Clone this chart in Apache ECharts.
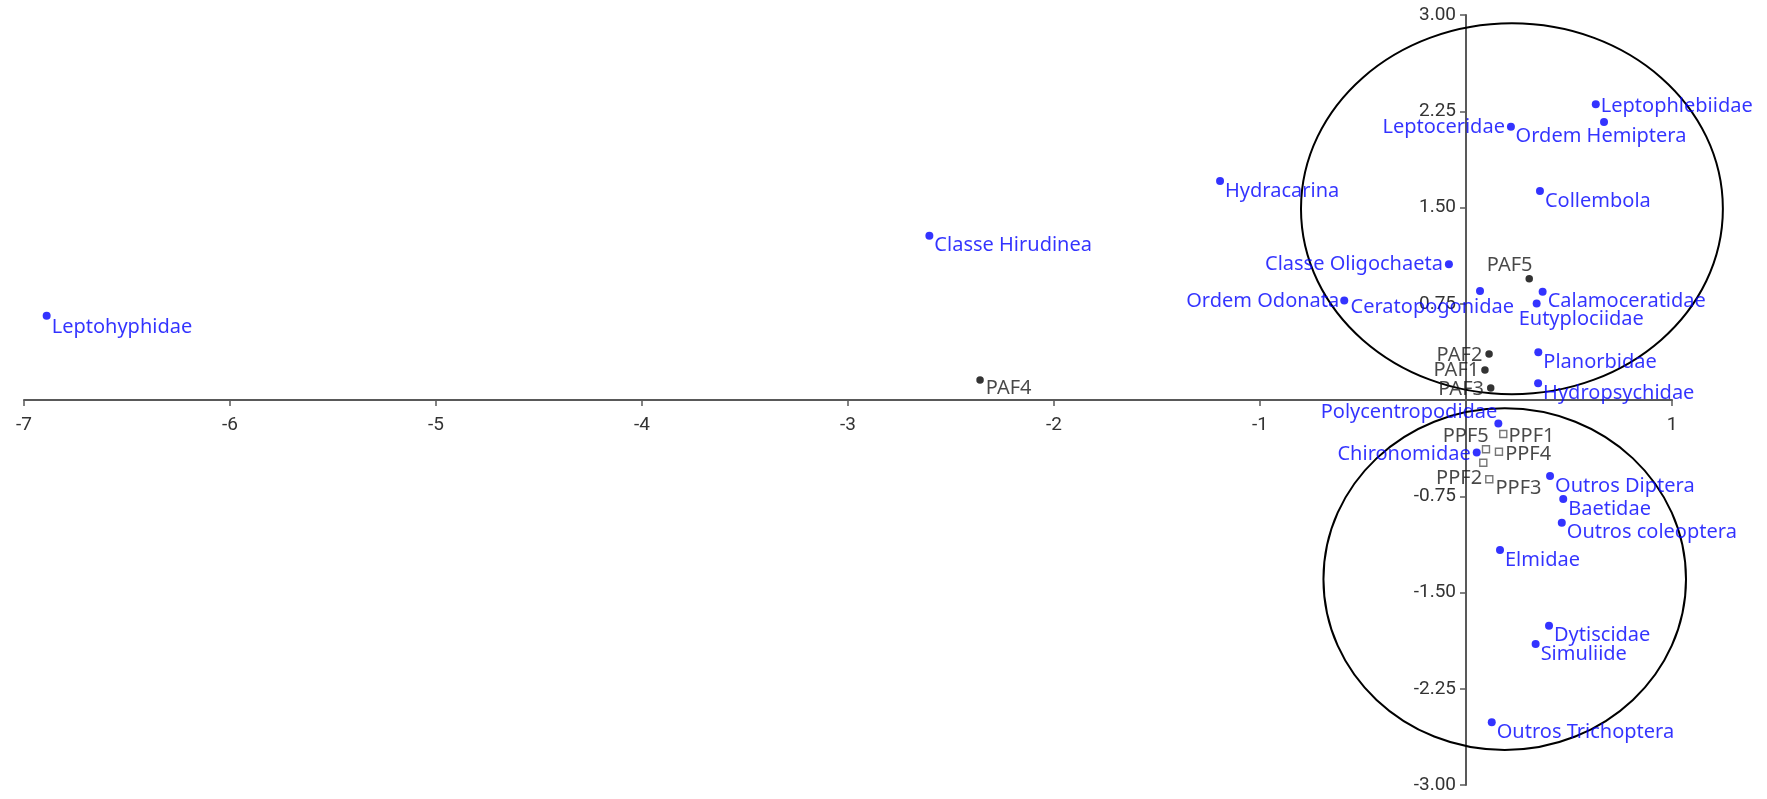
<!DOCTYPE html>
<html>
<head>
<meta charset="utf-8">
<script src="https://cdn.jsdelivr.net/npm/echarts@6/dist/echarts.min.js"></script>
<style>
html,body{margin:0;padding:0;background:#fff;}
#chart{width:1767px;height:799px;}
</style>
</head>
<body>
<div id="chart"></div>
<script>
// ---- data ----
const taxaNames = ['Leptophlebiidae','Ordem Hemiptera','Leptoceridae','Hydracarina','Collembola','Classe Hirudinea','Classe Oligochaeta','Ceratopogonidae','Ordem Odonata','Calamoceratidae','Eutyplociidae','Leptohyphidae','Planorbidae','Hydropsychidae','Polycentropodidae','Chironomidae','Outros Diptera','Baetidae','Outros coleoptera','Elmidae','Dytiscidae','Simuliide','Outros Trichoptera'];
const taxaX = [0.630, 0.670, 0.218, -1.194, 0.359, -2.605, -0.083, 0.068, -0.591, 0.372, 0.343, -6.890, 0.351, 0.350, 0.157, 0.052, 0.408, 0.472, 0.465, 0.165, 0.403, 0.338, 0.125];
const taxaY = [2.304, 2.166, 2.130, 1.707, 1.629, 1.280, 1.057, 0.849, 0.775, 0.844, 0.752, 0.657, 0.372, 0.130, -0.183, -0.409, -0.592, -0.771, -0.956, -1.169, -1.759, -1.901, -2.512];

const pafNames = ['PAF1','PAF2','PAF3','PAF4','PAF5'];
const pafX = [0.092, 0.112, 0.120, -2.359, 0.307];
const pafY = [0.234, 0.358, 0.094, 0.156, 0.945];

const ppfNames = ['PPF1','PPF2','PPF3','PPF4','PPF5'];
const ppfX = [0.181, 0.084, 0.113, 0.160, 0.097];
const ppfY = [-0.265, -0.489, -0.618, -0.403, -0.384];

const ellipseCX = [0.223, 0.188];
const ellipseCY = [1.490, -1.396];
const ellipseRX = [1.024, 0.880];
const ellipseRY = [1.445, 1.331];

const xMin = -7, xMax = 1, xStep = 1;
const yMin = -3, yMax = 3, yStep = 0.75;

// ---- label placement (styling) ----
// [position, distance, dx, dy]
const place = {
  'Leptophlebiidae': ['right', 1, 0, 2],
  'Ordem Hemiptera': ['bottom', 0, -3, 0],
  'Leptoceridae': ['left', 2, 0, 1],
  'Classe Oligochaeta': ['left', 2, 0, 0],
  'Ceratopogonidae': ['left', 0, 38, 16],
  'Ordem Odonata': ['left', 1, 0, 1],
  'Eutyplociidae': ['right', 0, -22, 16],
  'Polycentropodidae': ['left', 0, 3, -11],
  'Chironomidae': ['left', 2, 0, 2],
  'Leptohyphidae': ['right', 1, 0, 12],
  'PAF1': ['left', 2, 0, 0],
  'PAF2': ['left', 3, 0, 1],
  'PAF3': ['left', 3, 0, 1],
  'PAF4': ['right', 2, 0, 8],
  'PAF5': ['left', 0, 7, -13],
  'PPF1': ['right', 1, 0, 2],
  'PPF2': ['left', 0, 3, 16],
  'PPF3': ['right', 2, 0, 9],
  'PPF4': ['right', 2, 0, 3],
  'PPF5': ['left', 0, 7, -13]
};
const defaultPlace = ['right', 1, 0, 10];

function build(names, xs, ys) {
  return names.map((n, i) => {
    const p = place[n] || defaultPlace;
    return {
      name: n,
      value: [xs[i], ys[i]],
      label: { position: p[0], distance: p[1], offset: [p[2], p[3]] }
    };
  });
}

const labelFont = '"Noto Sans", "Open Sans", sans-serif';
const tickFont = 'Roboto, "DejaVu Sans", sans-serif';

const chart = echarts.init(document.getElementById('chart'));
chart.setOption({
  animation: false,
  backgroundColor: '#ffffff',
  grid: { left: 24, right: 95, top: 15, bottom: 14, containLabel: false, outerBoundsMode: 'none' },
  xAxis: {
    type: 'value', min: xMin, max: xMax, interval: xStep,
    axisLine: { show: true, onZero: false, lineStyle: { color: '#595959', width: 2 } },
    axisTick: { show: true, length: 6, lineStyle: { color: '#595959', width: 1.5 } },
    axisLabel: {
      margin: 16, color: '#333', fontFamily: tickFont, fontSize: 19,
      formatter: v => (Math.abs(v) < 1e-9 ? '' : String(v))
    },
    splitLine: { show: false }
  },
  yAxis: {
    type: 'value', min: yMin, max: yMax, interval: yStep,
    axisLine: { show: true, onZero: false, lineStyle: { color: '#595959', width: 2 } },
    axisTick: { show: true, length: 6, lineStyle: { color: '#595959', width: 1.5 } },
    axisLabel: {
      margin: 10, color: '#333', fontFamily: tickFont, fontSize: 19,
      formatter: v => (Math.abs(v) < 1e-9 ? '' : v.toFixed(2))
    },
    splitLine: { show: false }
  },
  series: [
    {
      type: 'custom',
      name: 'ellipses',
      clip: false,
      silent: true,
      encode: { x: 0, y: 1 },
      data: ellipseCX.map((c, i) => [c, ellipseCY[i], ellipseRX[i], ellipseRY[i]]),
      renderItem: function (params, api) {
        const c = api.coord([api.value(0), api.value(1)]);
        const s = api.size([api.value(2), api.value(3)]);
        return {
          type: 'ellipse',
          shape: { cx: c[0], cy: c[1], rx: s[0], ry: s[1] },
          style: { fill: 'none', stroke: '#000', lineWidth: 2 }
        };
      },
      z: 1
    },
    {
      type: 'scatter', name: 'taxa',
      symbol: 'circle', symbolSize: 8,
      itemStyle: { color: '#0000ff' },
      label: { show: true, formatter: '{b}', color: '#0000ff', fontFamily: labelFont, fontSize: 20 },
      data: build(taxaNames, taxaX, taxaY),
      z: 3
    },
    {
      type: 'scatter', name: 'PAF',
      symbol: 'circle', symbolSize: 7.5,
      itemStyle: { color: '#000' },
      label: { show: true, formatter: '{b}', color: '#1a1a1a', fontFamily: labelFont, fontSize: 20 },
      data: build(pafNames, pafX, pafY),
      z: 3
    },
    {
      type: 'scatter', name: 'PPF',
      symbol: 'rect', symbolSize: 7,
      itemStyle: { color: '#fff', borderColor: '#555', borderWidth: 1.4 },
      label: { show: true, formatter: '{b}', color: '#1a1a1a', fontFamily: labelFont, fontSize: 20 },
      data: build(ppfNames, ppfX, ppfY),
      z: 3
    }
  ]
});

// Move both axes so they cross at the data origin (0, 0)
for (let k = 0; k < 3; k++) {
  const origin = chart.convertToPixel({ gridIndex: 0 }, [0, 0]);
  const corner = chart.convertToPixel({ gridIndex: 0 }, [xMin, yMin]);
  chart.setOption({
    xAxis: { offset: -(corner[1] - origin[1]) },
    yAxis: { offset: -(origin[0] - corner[0]) }
  });
}
</script>
</body>
</html>
